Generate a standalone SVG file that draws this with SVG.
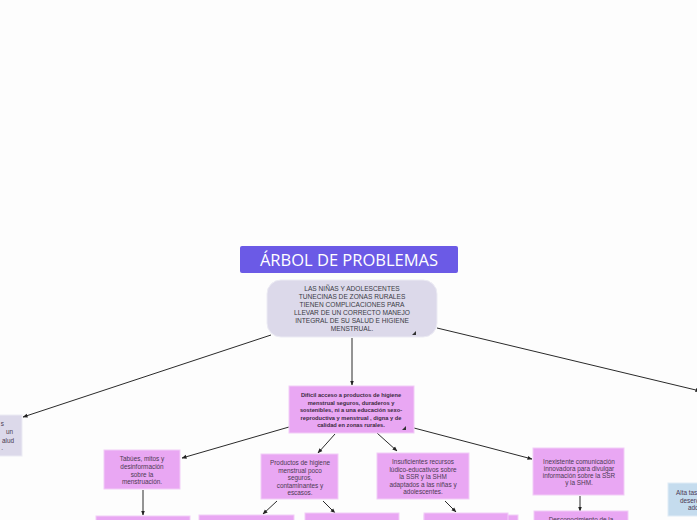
<svg xmlns="http://www.w3.org/2000/svg" width="697" height="520" viewBox="0 0 697 520">
<defs>
<style>
.pink{fill:#e9a7f3;stroke:#f2cdf7;stroke-width:1}
.lav{fill:#dcd9ea;stroke:#ecebf4;stroke-width:1}
.blue{fill:#c5dcee;stroke:#e0ecf6;stroke-width:1}
.t{font-family:"Liberation Sans","Open Sans",sans-serif;text-anchor:middle;fill:#4b3a52}
.s{font-size:6.4px}
.c{font-size:6.6px;fill:#3a3a44}
.b{font-size:5.7px;font-weight:bold;fill:#3a2a40}
.edge{stroke:#2a2a2a;stroke-width:1;fill:none;marker-end:url(#ah)}
.tri{fill:#333}
</style>
<marker id="ah" viewBox="0 0 10 10" refX="9" refY="5" markerWidth="5" markerHeight="5" orient="auto" markerUnits="userSpaceOnUse"><path d="M0,1 L10,5 L0,9 z" fill="#222"/></marker>
</defs>
<rect width="697" height="520" fill="#fdfdfd"/>

<g id="connectors">
<line class="edge" x1="271" y1="335" x2="23" y2="417"/>
<line class="edge" x1="352" y1="338" x2="352" y2="385"/>
<line class="edge" x1="437" y1="328" x2="700" y2="391"/>
<line class="edge" x1="289" y1="427" x2="182" y2="458"/>
<line class="edge" x1="335" y1="434" x2="318" y2="453"/>
<line class="edge" x1="377" y1="433" x2="397" y2="451"/>
<line class="edge" x1="414" y1="428" x2="532" y2="459"/>
<line class="edge" x1="143" y1="490" x2="143" y2="515"/>
<line class="edge" x1="277" y1="501" x2="263" y2="514"/>
<line class="edge" x1="323" y1="501" x2="335" y2="513"/>
<line class="edge" x1="445" y1="501" x2="456" y2="512"/>
<line class="edge" x1="580" y1="496" x2="580" y2="511"/>
</g>

<g id="title">
<rect x="240" y="246" width="218" height="27" rx="2" fill="#6b5ae6"/>
<text x="349" y="266" font-family="'Open Sans','Liberation Sans',sans-serif" font-size="16.5" fill="#ffffff" text-anchor="middle">ÁRBOL DE PROBLEMAS</text>
</g>

<g id="central">
<rect class="lav" x="267" y="280" width="170" height="57" rx="14"/>
<text class="t c" x="352"><tspan x="352" y="291">LAS NIÑAS Y ADOLESCENTES</tspan><tspan x="352" y="299">TUNECINAS DE ZONAS RURALES</tspan><tspan x="352" y="307">TIENEN COMPLICACIONES PARA</tspan><tspan x="352" y="315">LLEVAR DE UN CORRECTO MANEJO</tspan><tspan x="352" y="323">INTEGRAL DE SU SALUD E HIGIENE</tspan><tspan x="352" y="331">MENSTRUAL.</tspan></text>
<path class="tri" d="M416,331 L416,335 L412,335 z"/>
</g>

<g id="left-node">
<rect class="lav" x="-40" y="415" width="62" height="41"/>
<text class="t s" style="text-anchor:end"><tspan x="4" y="426">s</tspan><tspan x="13" y="434">un</tspan><tspan x="14" y="442.5">alud</tspan><tspan x="3" y="450">.</tspan></text>
</g>

<g id="middle">
<rect class="pink" x="289" y="386" width="125" height="47"/>
<text class="t b"><tspan x="351" y="397">Difícil acceso a productos de higiene</tspan><tspan x="351" y="404.5">menstrual seguros, duraderos y</tspan><tspan x="351" y="412">sostenibles, ni a una educación sexo-</tspan><tspan x="351" y="419.5">reproductiva y menstrual , digna y de</tspan><tspan x="351" y="427">calidad en zonas rurales.</tspan></text>
<path class="tri" d="M406,426 L406,430 L402,430 z"/>
</g>

<g id="tabues">
<rect class="pink" x="104" y="450" width="76" height="39"/>
<text class="t s"><tspan x="142" y="461">Tabúes, mitos y</tspan><tspan x="142" y="469">desinformación</tspan><tspan x="142" y="476.5">sobre la</tspan><tspan x="142" y="484">menstruación.</tspan></text>
</g>

<g id="productos">
<rect class="pink" x="261" y="454" width="77" height="45"/>
<text class="t s"><tspan x="300" y="465">Productos de higiene</tspan><tspan x="300" y="472.5">menstrual poco</tspan><tspan x="300" y="480">seguros,</tspan><tspan x="300" y="487.5">contaminantes y</tspan><tspan x="300" y="495">escasos.</tspan></text>
</g>

<g id="insuficientes">
<rect class="pink" x="377" y="453" width="92" height="46"/>
<text class="t s"><tspan x="423" y="464">Insuficientes recursos</tspan><tspan x="423" y="471.5">lúdico-educativos sobre</tspan><tspan x="423" y="479">la SSR y la SHM</tspan><tspan x="423" y="486.5">adaptados a las niñas y</tspan><tspan x="423" y="494">adolescentes.</tspan></text>
</g>

<g id="inexistente">
<rect class="pink" x="533" y="448" width="91" height="47"/>
<text class="t s"><tspan x="579" y="464">Inexistente comunicación</tspan><tspan x="579" y="471">innovadora para divulgar</tspan><tspan x="579" y="478">información sobre la SSR</tspan><tspan x="579" y="485">y la SHM.</tspan></text>
</g>

<g id="bottom1"><rect class="pink" x="96" y="516" width="94" height="10"/></g>
<g id="bottom2"><rect class="pink" x="199" y="515" width="95" height="10"/></g>
<g id="bottom3"><rect class="pink" x="305" y="513" width="94" height="10"/></g>
<g id="bottom4"><rect class="pink" x="424" y="515" width="94" height="10"/><rect class="pink" x="424" y="513" width="84" height="10"/></g>
<g id="bottom5">
<rect class="pink" x="534" y="511" width="94" height="12"/>
<text class="t s" x="581" y="522">Desconocimiento de la</text>
</g>

<g id="right-node">
<rect class="blue" x="668" y="483" width="40" height="33"/>
<text class="t s" style="text-anchor:start"><tspan x="676" y="495">Alta tas</tspan><tspan x="680" y="502.5">deserc</tspan><tspan x="688" y="510">ado</tspan></text>
</g>
</svg>
